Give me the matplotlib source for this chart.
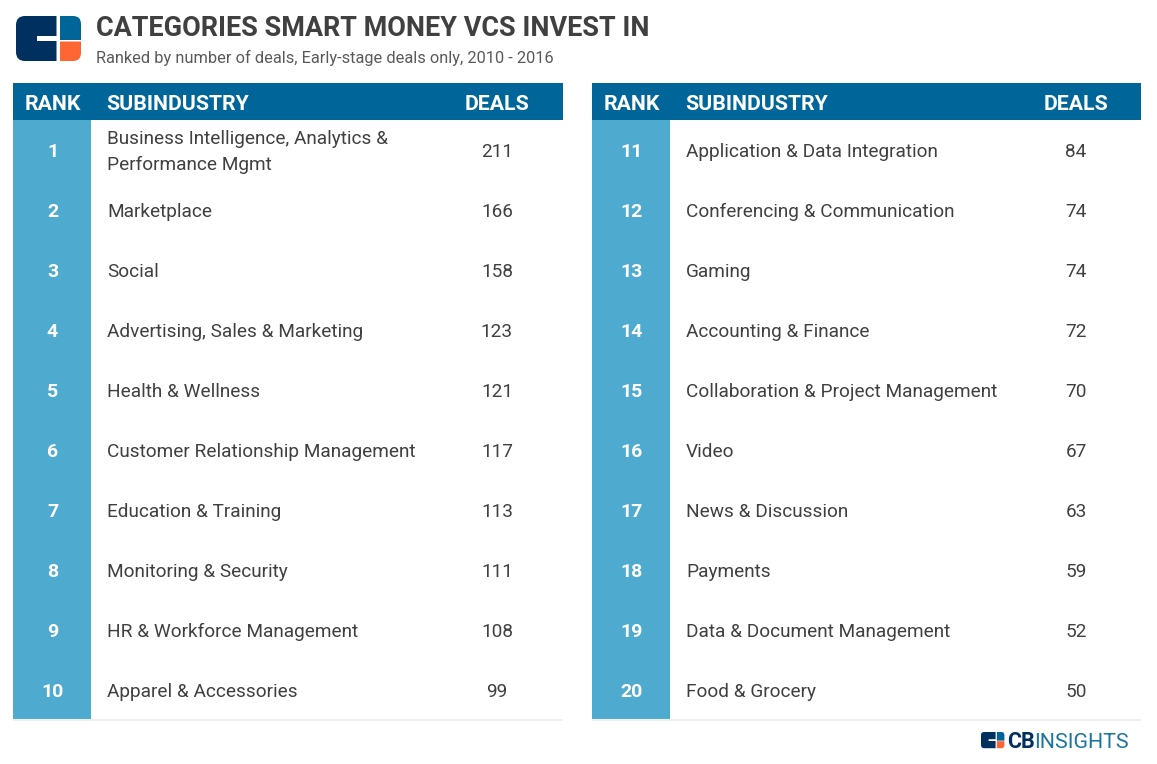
import matplotlib
matplotlib.use("Agg")
import matplotlib.pyplot as plt
from matplotlib.patches import Rectangle, PathPatch
from matplotlib.path import Path

W, H = 1157, 764
ranks_left = list(range(1, 11))
ranks_right = list(range(11, 21))
names_left = ["Business Intelligence, Analytics &\nPerformance Mgmt", "Marketplace", "Social",
              "Advertising, Sales & Marketing", "Health & Wellness",
              "Customer Relationship Management", "Education & Training",
              "Monitoring & Security", "HR & Workforce Management", "Apparel & Accessories"]
deals_left = [211, 166, 158, 123, 121, 117, 113, 111, 108, 99]
names_right = ["Application & Data Integration", "Conferencing & Communication", "Gaming",
               "Accounting & Finance", "Collaboration & Project Management", "Video",
               "News & Discussion", "Payments", "Data & Document Management", "Food & Grocery"]
deals_right = [84, 74, 74, 72, 70, 67, 63, 59, 52, 50]
headers = ["RANK", "SUBINDUSTRY", "DEALS"]

NAVY, BLUE, LIGHT, ORANGE = "#00305F", "#006699", "#4FAAD0", "#FF6633"
TXT = "#404040"
plt.rcParams["font.family"] = ["Roboto", "DejaVu Sans"]
plt.rcParams["text.parse_math"] = False

fig = plt.figure(figsize=(W / 100, H / 100), dpi=100, facecolor="white")
ax = fig.add_axes([0, 0, 1, 1])
ax.set_xlim(0, W); ax.set_ylim(H, 0); ax.axis("off")


def table(x0, ranks, names, deals):
    w = 550 if x0 < 300 else 549
    ax.add_patch(Rectangle((x0, 83), w, 37, fc=BLUE, ec="none"))
    ax.add_patch(Rectangle((x0, 120), 78, 599, fc=LIGHT, ec="none"))
    ax.plot([x0, x0 + w], [720, 720], color="#F0F0F0", lw=1.5, solid_capstyle="butt")
    ax.text(x0 + 40, 104, headers[0], color="white", fontsize=15.3, fontweight="bold", ha="center", va="center")
    ax.text(x0 + 93.5, 104, headers[1], color="white", fontsize=15.3, fontweight="bold", ha="left", va="center")
    ax.text(x0 + 484, 104, headers[2], color="white", fontsize=15.3, fontweight="bold", ha="center", va="center")
    for i, (r, n, d) in enumerate(zip(ranks, names, deals)):
        y = 152 + 60 * i
        ax.text(x0 + 39.5, y, str(r), color="white", fontsize=14, fontweight="bold", ha="center", va="center")
        ax.text(x0 + 94, y, n, color=TXT, fontsize=13.7, ha="left", va="center", linespacing=1.5)
        ax.text(x0 + 484, y, str(d), color=TXT, fontsize=13.7, ha="center", va="center")


table(13, ranks_left, names_left, deals_left)
table(592, ranks_right, names_right, deals_right)


def logo(x, y, s):
    """Rounded CB mark; s is the size of a 65-by-45 px original."""
    def P(a, b):
        return (x + a * s, y + b * s)
    r = 9
    v = [P(r, 0), P(40.5, 0), P(40.5, 20), P(21, 20), P(21, 25), P(40.5, 25), P(40.5, 45), P(r, 45),
         P(0, 45), P(0, 36), P(0, r), P(0, 0), P(r, 0), P(r, 0)]
    c = [Path.MOVETO, Path.LINETO, Path.LINETO, Path.LINETO, Path.LINETO, Path.LINETO, Path.LINETO,
         Path.LINETO, Path.CURVE3, Path.CURVE3, Path.LINETO, Path.CURVE3, Path.CURVE3, Path.CLOSEPOLY]
    ax.add_patch(PathPatch(Path(v, c), fc=NAVY, ec="none"))
    v = [P(44, 0), P(57, 0), P(65, 0), P(65, 8), P(65, 24), P(44, 24), P(44, 0)]
    c = [Path.MOVETO, Path.LINETO, Path.CURVE3, Path.CURVE3, Path.LINETO, Path.LINETO, Path.CLOSEPOLY]
    ax.add_patch(PathPatch(Path(v, c), fc=BLUE, ec="none"))
    v = [P(44, 25.5), P(65, 25.5), P(65, 37), P(65, 45), P(57, 45), P(44, 45), P(44, 25.5)]
    c = [Path.MOVETO, Path.LINETO, Path.LINETO, Path.CURVE3, Path.CURVE3, Path.LINETO, Path.CLOSEPOLY]
    ax.add_patch(PathPatch(Path(v, c), fc=ORANGE, ec="none"))


logo(16, 16, 1.0)
logo(981, 732, 0.36)

ax.text(96, 28, "CATEGORIES SMART MONEY VCS INVEST IN", color=TXT, fontsize=19.45,
        fontweight="bold", ha="left", va="center")
ax.text(96, 58, "Ranked by number of deals, Early-stage deals only, 2010 - 2016", color="#5A5A5A",
        fontsize=11.76, ha="left", va="center")
ax.text(1007, 742, "CB", color=NAVY, fontsize=15.5, fontweight="bold", ha="left", va="center")
ax.text(1034, 742, "INSIGHTS", color="#1A75A3", fontsize=15.4, ha="left", va="center")

fig.savefig("out.png", dpi=100, facecolor="white")
